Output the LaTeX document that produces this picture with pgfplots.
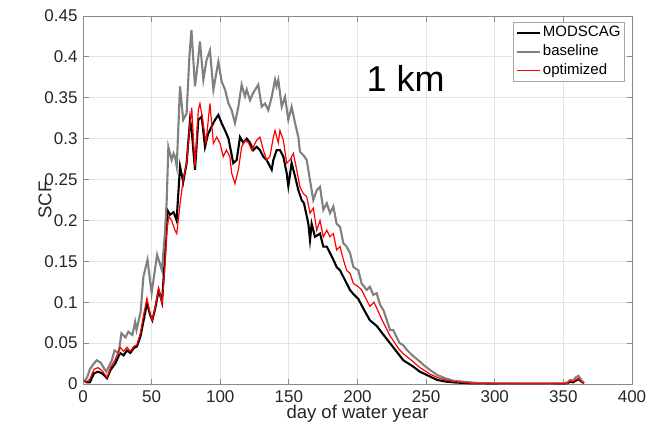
\documentclass[border=0pt]{standalone}
\usepackage{pgfplots}
\pgfplotsset{compat=1.18}
\usepackage{fontspec}
\setmainfont{Liberation Sans}
\definecolor{axgray}{HTML}{8A8A8A}
\definecolor{tickcol}{HTML}{262626}
\definecolor{gridcol}{HTML}{E3E3E3}
\definecolor{basegray}{HTML}{808080}
\begin{document}
\begin{tikzpicture}
\path[use as bounding box] (-83pt,-48pt) rectangle (566pt,384pt);
\begin{axis}[
  scale only axis,
  width=549pt, height=368pt,
  xmin=0, xmax=400, ymin=0, ymax=0.45,
  xtick={0,50,...,400},
  ytick={0,0.05,0.1,0.15,0.2,0.25,0.3,0.35,0.4,0.45},
  yticklabels={0,0.05,0.1,0.15,0.2,0.25,0.3,0.35,0.4,0.45},
  xticklabels={0,50,100,150,200,250,300,350,400},
  tick align=inside,
  major tick length=5.5pt,
  tick style={axgray, line width=0.8pt},
  axis line style={axgray, line width=0.9pt},
  grid=major,
  major grid style={gridcol, line width=0.9pt},
  ticklabel style={font=\fontsize{17}{20}\selectfont, text=tickcol},
  xticklabel style={yshift=-3pt},
  yticklabel style={xshift=-2pt},
  xlabel={day of water year},
  ylabel={SCF},
  label style={font=\fontsize{18.5}{22}\selectfont, text=tickcol},
  xlabel style={at={(axis description cs:0.5,-0.082)}, anchor=center},
  ylabel style={at={(axis description cs:-0.069,0.5)}, anchor=center},
  legend style={at={(rel axis cs:0.987,0.984)}, anchor=north east,
    draw=black!35, fill=white, line width=0.8pt,
    font=\fontsize{15}{17}\selectfont,
    inner xsep=2pt, inner ysep=1pt,
    nodes={text height=11pt, text depth=4pt}},
  legend cell align=left,
  legend image code/.code={\draw[#1] (0pt,0pt) -- (23pt,0pt);},
]
\addplot[black, line width=2.1pt] coordinates {
(1,0.004)(3,0.002)(5,0.002)(8,0.013)(11,0.015)(14,0.013)(17.5,0.007)(20,0.017)(23.5,0.025)(27,0.038)(29.6,0.035)(32,0.041)(34.5,0.038)(37,0.044)(39.3,0.046)(41.8,0.058)(44.2,0.078)(46.6,0.099)(49,0.084)(50.5,0.078)(52.7,0.093)(55.1,0.115)(57.6,0.1)(59.5,0.15)(61.4,0.213)(63.4,0.207)(66,0.21)(68.2,0.2)(70.7,0.266)(73,0.247)(75.5,0.27)(78,0.323)(79.2,0.31)(81.6,0.262)(84,0.323)(86.5,0.327)(88.9,0.29)(91,0.305)(93.7,0.315)(96.2,0.323)(98.6,0.329)(101,0.319)(103.5,0.31)(106,0.3)(109.5,0.27)(112,0.274)(114.4,0.302)(116.8,0.295)(119.3,0.3)(121.7,0.295)(124,0.286)(126.5,0.29)(128.9,0.286)(131.4,0.278)(133.8,0.274)(137.5,0.262)(138.7,0.274)(141.1,0.286)(143.5,0.286)(146,0.278)(148.4,0.258)(149.6,0.242)(152,0.27)(154.5,0.254)(156.9,0.237)(159.3,0.225)(161,0.221)(164.2,0.196)(165.4,0.176)(166.6,0.196)(169,0.18)(172.7,0.184)(175.1,0.168)(177.6,0.168)(180,0.16)(182.4,0.152)(184.8,0.143)(187.3,0.139)(189.7,0.131)(192.1,0.123)(194.5,0.115)(197,0.11)(200.6,0.104)(205,0.09)(209,0.078)(214,0.071)(219,0.06)(223.7,0.05)(230.6,0.035)(233.4,0.029)(240,0.022)(245.5,0.015)(253,0.009)(258,0.005)(264,0.003)(270,0.002)(280,0.001)(300,0.0005)(350,0.0005)(353,0.001)(355,0.003)(357,0.002)(359,0.004)(361,0.006)(363,0.003)(365,0.001)
};
\addlegendentry{MODSCAG}
\addplot[basegray, line width=2.1pt] coordinates {
(1,0.004)(3,0.008)(5,0.018)(7,0.023)(10,0.029)(13,0.026)(15,0.020)(17,0.015)(19,0.022)(21,0.029)(23,0.041)(26,0.038)(28,0.062)(31,0.057)(33,0.064)(36,0.060)(38,0.076)(39,0.066)(42,0.088)(44,0.131)(47,0.152)(50,0.111)(52,0.135)(54,0.158)(57.5,0.139)(59.7,0.184)(61,0.225)(62.2,0.29)(64.6,0.274)(66,0.282)(67,0.278)(68.3,0.266)(70.7,0.364)(73,0.323)(75.5,0.331)(77.5,0.4)(79,0.433)(81.6,0.364)(83.5,0.39)(85.2,0.419)(87.7,0.372)(90,0.396)(92.5,0.408)(95,0.36)(98.6,0.394)(101,0.37)(103.5,0.36)(106,0.343)(108.3,0.335)(110.7,0.319)(113.2,0.339)(115.6,0.366)(118,0.352)(119.3,0.36)(121.7,0.347)(124,0.356)(127.7,0.366)(130.2,0.339)(132.6,0.343)(135,0.335)(137.5,0.351)(139.9,0.372)(141,0.364)(142.3,0.372)(144.8,0.339)(147.2,0.351)(149.6,0.323)(152,0.339)(154.5,0.319)(156.9,0.302)(158.1,0.284)(160.5,0.28)(163,0.274)(165.4,0.249)(167.8,0.225)(170.3,0.237)(172.7,0.241)(175.1,0.213)(177.6,0.221)(180,0.209)(182.4,0.217)(184.8,0.196)(187.3,0.192)(189.7,0.172)(192.1,0.168)(194.6,0.16)(197,0.143)(200.6,0.139)(203,0.123)(206.7,0.115)(209,0.119)(211.5,0.109)(214,0.111)(216.4,0.097)(219,0.09)(223.7,0.066)(226,0.066)(230.6,0.05)(233,0.048)(235.8,0.042)(240,0.035)(245,0.028)(249,0.022)(253,0.017)(258,0.011)(264,0.007)(270,0.004)(276,0.003)(282,0.002)(290,0.001)(300,0.0007)(320,0.0005)(340,0.0005)(350,0.001)(353,0.002)(355,0.005)(357,0.004)(359,0.008)(361,0.010)(363,0.005)(365,0.001)
};
\addlegendentry{baseline}
\addplot[red, line width=1.2pt] coordinates {
(1,0.004)(3,0.003)(5,0.006)(8,0.018)(11,0.02)(14,0.016)(17.5,0.008)(20,0.02)(23.5,0.03)(27,0.045)(29.6,0.04)(32,0.045)(34.5,0.04)(37,0.046)(39.3,0.048)(41.8,0.062)(44.2,0.085)(46.6,0.105)(49,0.085)(50.5,0.078)(52.7,0.095)(55.1,0.117)(57.6,0.098)(59.5,0.14)(61.4,0.19)(62.5,0.205)(64.6,0.2)(67,0.188)(68.3,0.184)(70.7,0.22)(73,0.25)(75.5,0.27)(78,0.319)(79.2,0.338)(81.6,0.266)(84,0.335)(85.2,0.343)(87,0.325)(89.6,0.295)(92.5,0.343)(95,0.294)(97.4,0.302)(99.9,0.294)(102.2,0.278)(104.5,0.286)(107,0.278)(108.3,0.258)(110.7,0.245)(113.2,0.262)(115.6,0.29)(118,0.298)(120.5,0.295)(122.9,0.286)(126.5,0.298)(128.9,0.302)(131.4,0.286)(133.8,0.274)(136.2,0.278)(138.7,0.302)(139.9,0.31)(142.3,0.295)(143.5,0.31)(146,0.298)(148.4,0.27)(150.8,0.274)(153.3,0.282)(155.7,0.262)(158.1,0.241)(160.5,0.233)(163,0.229)(165.4,0.209)(167.8,0.215)(170.3,0.188)(172.7,0.2)(175.1,0.18)(177.6,0.188)(180,0.18)(182.4,0.184)(184.8,0.164)(187.3,0.168)(189.7,0.152)(192.1,0.139)(194.6,0.135)(197,0.123)(200.6,0.119)(203,0.115)(206,0.105)(209,0.095)(212,0.1)(214,0.093)(218,0.078)(223.7,0.059)(230,0.043)(233.4,0.037)(240,0.028)(245.5,0.02)(253,0.012)(258,0.008)(264,0.005)(270,0.003)(285,0.001)(300,0.0006)(350,0.0006)(353,0.001)(355,0.004)(357,0.003)(359,0.005)(361,0.007)(363,0.003)(365,0.001)
};
\addlegendentry{optimized}
\node[anchor=base, font=\fontsize{36}{40}\selectfont, text=black] at (axis cs:235,0.358) {1 km};
\end{axis}
\end{tikzpicture}
\end{document}
